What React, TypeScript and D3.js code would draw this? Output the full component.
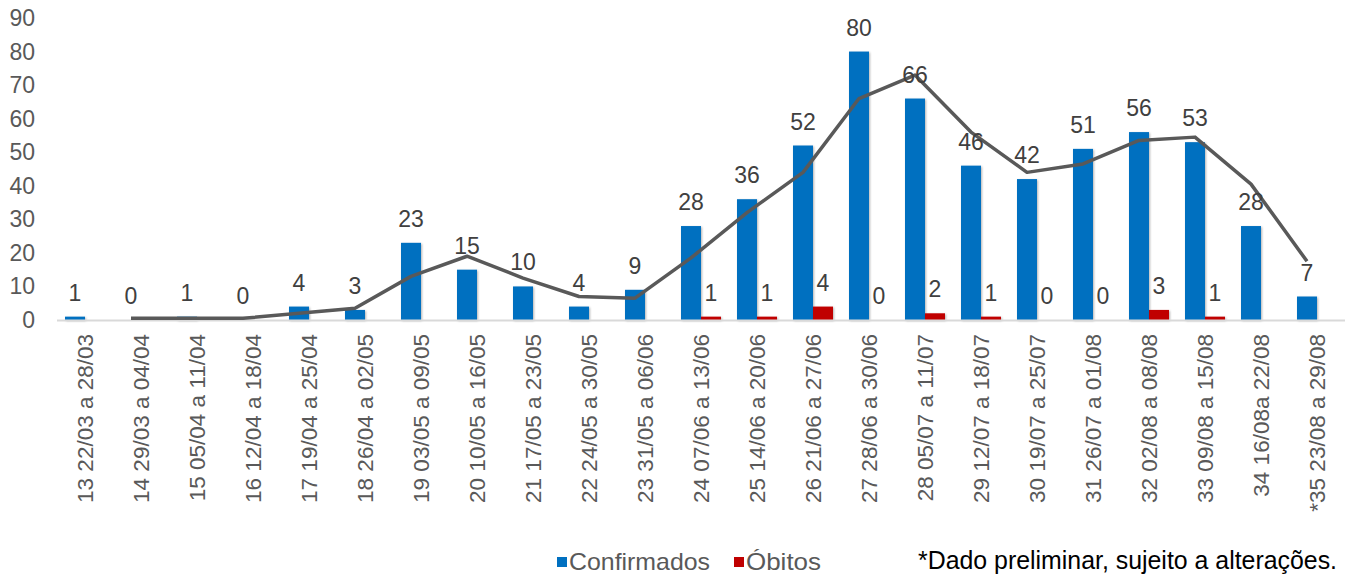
import React, { useEffect, useRef } from "react";
import * as d3 from "d3";

// epidemiological weeks
const weeks = [
  "13 22/03 a 28/03", "14 29/03 a 04/04", "15 05/04 a 11/04", "16 12/04 a 18/04",
  "17 19/04 a 25/04", "18 26/04 a 02/05", "19 03/05 a 09/05", "20 10/05 a 16/05",
  "21 17/05 a 23/05", "22 24/05 a 30/05", "23 31/05 a 06/06", "24 07/06 a 13/06",
  "25 14/06 a 20/06", "26 21/06 a 27/06", "27 28/06 a 30/06", "28 05/07 a 11/07",
  "29 12/07 a 18/07", "30 19/07 a 25/07", "31 26/07 a 01/08", "32 02/08 a 08/08",
  "33 09/08 a 15/08", "34 16/08a 22/08", "*35 23/08 a 29/08",
];

const confirmados = [1, 0, 1, 0, 4, 3, 23, 15, 10, 4, 9, 28, 36, 52, 80, 66, 46, 42, 51, 56, 53, 28, 7];

const obitos: (number | null)[] = [
  null, null, null, null, null, null, null, null, null, null, null,
  1, 1, 4, 0, 2, 1, 0, 0, 3, 1, null, null,
];

// trend line (moving average)
const tendencia: (number | null)[] = [
  null, 0.5, 0.5, 0.5, 2, 3.5, 13, 19, 12.5, 7, 6.5, 18.5,
  32, 44, 66, 73, 56, 44, 46.5, 53.5, 54.5, 40.5, 17.5,
];

const yTicks = [0, 10, 20, 30, 40, 50, 60, 70, 80, 90];

const BLUE = "#0070C0";
const RED = "#C00000";
const GRAY = "#595959";
const FONT = "'Liberation Sans', Arial, sans-serif";

const App: React.FC = () => {
  const svgRef = useRef<SVGSVGElement>(null);

  useEffect(() => {
    if (!svgRef.current) return;
    const width = 1349;
    const height = 574;

    const svg = d3.select(svgRef.current);
    svg.selectAll("*").remove();
    svg.attr("width", width).attr("height", height);

    const defs = svg.append("defs");
    const filter = defs.append("filter").attr("id", "shadow")
      .attr("x", "-30%").attr("y", "-10%").attr("width", "160%").attr("height", "130%");
    filter.append("feDropShadow")
      .attr("dx", 1).attr("dy", 1).attr("stdDeviation", 1.2)
      .attr("flood-color", "#000").attr("flood-opacity", 0.3);

    const left = 57;
    const right = 1345;
    const top = 18;
    const bottom = 320;

    const x = d3.scaleBand<string>().domain(weeks).range([left, right]);
    const inner = d3.scaleBand<string>()
      .domain(["c", "o"])
      .range([0, x.bandwidth()])
      .paddingInner(0)
      .paddingOuter(8 / 20);

    const y = d3.scaleLinear().domain([0, 90]).range([bottom, top]);

    const cx = (i: number) => x(weeks[i])! + inner("c")! + inner.bandwidth() / 2;
    const ox = (i: number) => x(weeks[i])! + inner("o")! + inner.bandwidth() / 2;

    // y tick labels
    svg.append("g")
      .selectAll("text")
      .data(yTicks)
      .enter()
      .append("text")
      .attr("x", 35)
      .attr("y", d => y(d))
      .attr("dy", "0.35em")
      .attr("text-anchor", "end")
      .style("font-family", FONT)
      .style("font-size", "23px")
      .attr("fill", GRAY)
      .text(d => d);

    // bars - confirmados
    svg.append("g")
      .attr("filter", "url(#shadow)")
      .selectAll("rect")
      .data(confirmados)
      .enter()
      .append("rect")
      .attr("x", (d, i) => cx(i) - inner.bandwidth() / 2)
      .attr("y", d => y(d))
      .attr("width", inner.bandwidth())
      .attr("height", d => y(0) - y(d))
      .attr("fill", BLUE);

    // bars - obitos
    const obG = svg.append("g").attr("filter", "url(#shadow)");
    obitos.forEach((v, i) => {
      if (v === null || v <= 0) return;
      obG.append("rect")
        .attr("x", ox(i) - inner.bandwidth() / 2)
        .attr("y", y(v))
        .attr("width", inner.bandwidth())
        .attr("height", y(0) - y(v))
        .attr("fill", RED);
    });

    // axis line
    svg.append("line")
      .attr("x1", left).attr("x2", right)
      .attr("y1", y(0) + 0.5).attr("y2", y(0) + 0.5)
      .attr("stroke", "#D9D9D9").attr("stroke-width", 2);

    // trend line
    const line = d3.line<number | null>()
      .defined(d => d !== null)
      .x((d, i) => cx(i))
      .y(d => y(d as number));
    svg.append("path")
      .datum(tendencia)
      .attr("d", line)
      .attr("fill", "none")
      .attr("stroke", GRAY)
      .attr("stroke-width", 3.5)
      .attr("stroke-linejoin", "round");

    // data labels
    svg.append("g")
      .selectAll("text")
      .data(confirmados)
      .enter()
      .append("text")
      .attr("x", (d, i) => cx(i))
      .attr("y", d => y(d) - 16)
      .attr("text-anchor", "middle")
      .style("font-family", FONT)
      .style("font-size", "23px")
      .attr("fill", "#404040")
      .text(d => d);

    const obL = svg.append("g");
    obitos.forEach((v, i) => {
      if (v === null) return;
      obL.append("text")
        .attr("x", ox(i))
        .attr("y", y(v) - 16)
        .attr("text-anchor", "middle")
        .style("font-family", FONT)
        .style("font-size", "23px")
        .attr("fill", "#404040")
        .text(v);
    });

    // x labels
    svg.append("g")
      .selectAll("text")
      .data(weeks)
      .enter()
      .append("text")
      .attr("transform", d => `translate(${x(d)! + x.bandwidth() / 2},334) rotate(-90)`)
      .attr("text-anchor", "end")
      .attr("dy", "0.35em")
      .style("font-family", FONT)
      .style("font-size", "22.5px")
      .attr("fill", GRAY)
      .text(d => d);

    // legend
    const legend = [
      { label: "Confirmados", color: BLUE, x: 557, w: 141 },
      { label: "Óbitos", color: RED, x: 734, w: 75 },
    ];
    const lg = svg.append("g");
    legend.forEach(l => {
      lg.append("rect")
        .attr("x", l.x).attr("y", 557)
        .attr("width", 10).attr("height", 10)
        .attr("fill", l.color);
      lg.append("text")
        .attr("x", l.x + 12).attr("y", 570)
        .attr("textLength", l.w)
        .attr("lengthAdjust", "spacingAndGlyphs")
        .style("font-family", FONT)
        .style("font-size", "24px")
        .attr("fill", GRAY)
        .text(l.label);
    });

    // footnote
    svg.append("text")
      .attr("x", 918).attr("y", 569)
      .attr("textLength", 419)
      .attr("lengthAdjust", "spacingAndGlyphs")
      .style("font-family", FONT)
      .style("font-size", "25px")
      .attr("fill", "#000")
      .text("*Dado preliminar, sujeito a alterações.");
  }, []);

  return (
    <svg
      ref={svgRef}
      style={{ position: "absolute", top: 0, left: 0, display: "block", background: "#fff" }}
    ></svg>
  );
};

export default App;
